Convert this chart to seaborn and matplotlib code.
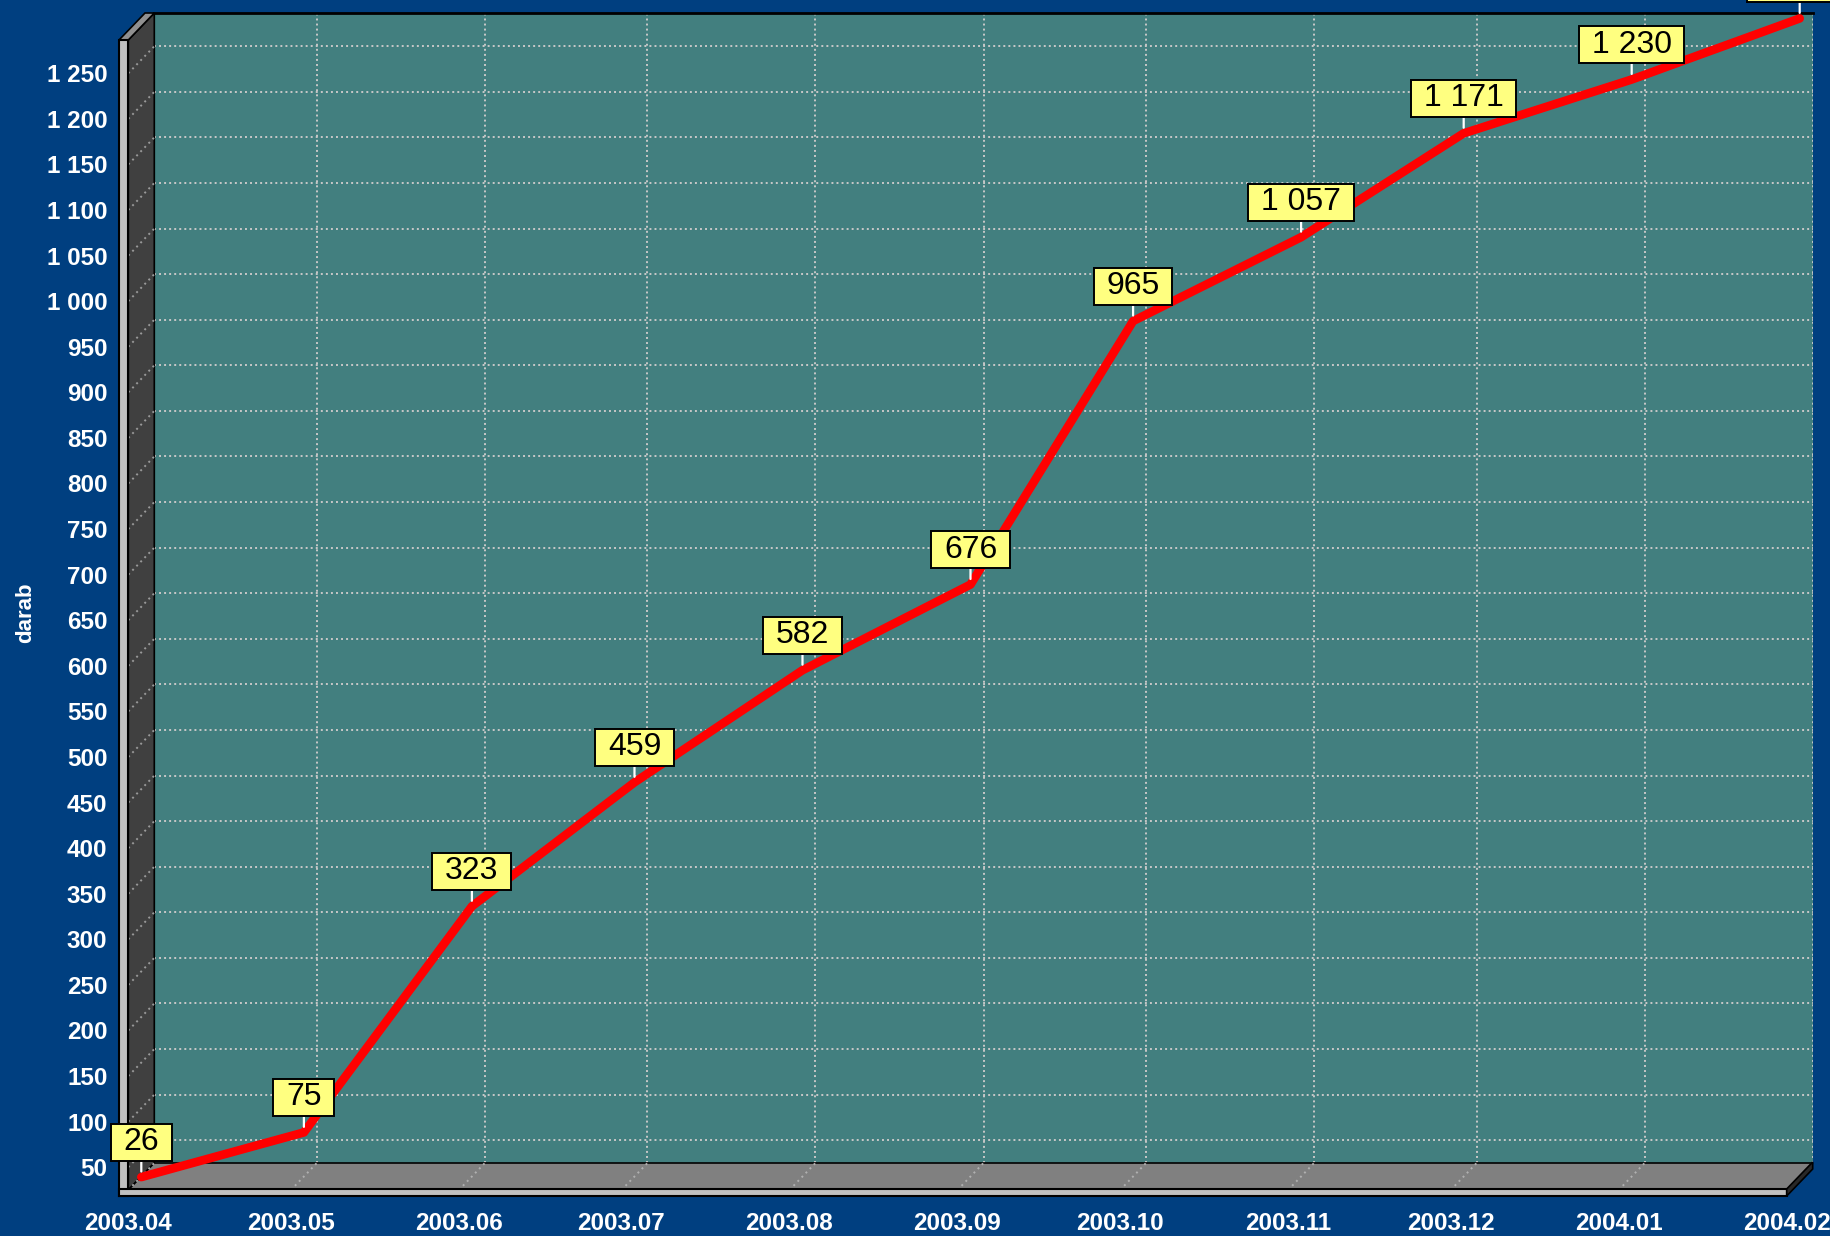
import numpy as np
import pandas as pd
import matplotlib
matplotlib.use("Agg")
import matplotlib.pyplot as plt
import matplotlib.dates as mdates
import matplotlib.ticker as mticker
from matplotlib.patches import Polygon
from matplotlib.path import Path
from matplotlib.lines import Line2D
from matplotlib.transforms import IdentityTransform
import seaborn as sns

# ---------------- data ----------------
months = ["2003-04-01", "2003-05-01", "2003-06-01", "2003-07-01", "2003-08-01",
          "2003-09-01", "2003-10-01", "2003-11-01", "2003-12-01", "2004-01-01",
          "2004-02-01"]
values = [26, 75, 323, 459, 582, 676, 965, 1057, 1171, 1230, 1297]
y_label = "darab"
x_range = ["2003-04-01", "2004-02-01"]
y_range = [25.0, 1286.5]

# ---------------- style ----------------
sns.set_style("white")
plt.rcParams["font.family"] = ["Liberation Sans", "DejaVu Sans"]
plt.rcParams["font.weight"] = "bold"

BG = "#003F80"
TEAL = "#427F7F"
W, H = 1831, 1236
fig = plt.figure(figsize=(W / 100, H / 100), dpi=100, facecolor=BG)

def rect(l, t, r, b):
    return [l / W, 1 - b / H, (r - l) / W, (b - t) / H]

FL, FT, FR, FB = 128.3, 40.0, 1786.7, 1190.0   # front plane (image px)
DX, DY = 26, 27                                # depth offset
MX, MY = 13, 12                                # mid-depth offset (series plane)

ax_back = fig.add_axes(rect(FL + DX, FT - DY, FR + DX, FB - DY), zorder=0)
ax_front = fig.add_axes(rect(FL, FT, FR, FB), zorder=4)
ax_mid = fig.add_axes(rect(FL + MX, FT - MY, FR + MX, FB - MY), zorder=5)

dates = pd.to_datetime(months)
xnum = mdates.date2num(dates)
x0, x1 = mdates.date2num(pd.to_datetime(x_range))

for a in (ax_back, ax_front, ax_mid):
    a.set_xlim(x0, x1)
    a.set_ylim(*y_range)

# back plane
ax_back.set_facecolor(TEAL)
ax_back.xaxis.set_major_locator(mdates.MonthLocator())
ax_back.yaxis.set_major_locator(mticker.MultipleLocator(50))
ax_back.grid(True, color="#C8C8C8", linestyle=(0, (1, 1.6)), linewidth=1.4)
ax_back.tick_params(left=False, bottom=False, labelleft=False, labelbottom=False)
for s in ("left", "right", "bottom"):
    ax_back.spines[s].set_visible(False)
ax_back.spines["top"].set_color("black")
ax_back.spines["top"].set_linewidth(2)

# front plane: ticks & labels
ax_front.patch.set_visible(False)
for s in ("top", "right"):
    ax_front.spines[s].set_visible(False)
ax_front.spines["left"].set_position(("outward", 8))
ax_front.spines["bottom"].set_position(("outward", 5))
ax_front.spines["left"].set_color("none")
ax_front.spines["bottom"].set_color("none")
ax_front.xaxis.set_major_locator(mdates.MonthLocator())
ax_front.xaxis.set_major_formatter(mdates.DateFormatter("%Y.%m"))
ax_front.xaxis.set_minor_locator(mdates.DayLocator(bymonthday=[8, 16, 23]))
ax_front.yaxis.set_major_locator(mticker.MultipleLocator(50))
ax_front.yaxis.set_minor_locator(mticker.MultipleLocator(12.5))
ax_front.yaxis.set_major_formatter(
    mticker.FuncFormatter(lambda v, p: f"{int(round(v)):,}".replace(",", " ")))
ax_front.tick_params(axis="both", which="major", colors="#E8E8E8", labelcolor="white",
                     labelsize=17.5, width=1.5, direction="out")
ax_front.tick_params(axis="y", which="major", length=4.5, pad=2.5)
ax_front.tick_params(axis="x", which="major", length=6, pad=5)
ax_front.tick_params(axis="both", which="minor", colors="#9A9A9A", width=1.5,
                     length=2.8, direction="out")
ax_front.grid(False)

# ---------------- pseudo-3D walls ----------------
def P(x, y):
    return (x, H - y)

def poly(pts, fc, ec="black", lw=1.0, z=1):
    p = Polygon([P(*q) for q in pts], closed=True, fc=fc, ec=ec, lw=lw,
                transform=IdentityTransform(), zorder=z)
    fig.add_artist(p)

# left wall and floor
poly([(FL, FT), (FL + DX, FT - DY), (FL + DX, FB - DY), (FL, FB)], "#404040", lw=1.2, z=1)
poly([(FL, FB), (FL + DX, FB - DY), (FR + DX, FB - DY), (FR, FB)], "#808080", lw=1.2, z=1)

# diagonals on wall / floor, following the axis scales
for v in np.arange(50, 1251, 50):
    p0 = ax_front.transData.transform((x0, v))
    p1 = ax_back.transData.transform((x0, v))
    fig.add_artist(Line2D([p0[0], p1[0]], [p0[1], p1[1]], color="#9A9A9A", lw=1.4,
                          linestyle=(0, (1, 2)), transform=IdentityTransform(), zorder=1.5))
for d in mdates.date2num(pd.date_range(x_range[0], x_range[1], freq="MS")):
    p0 = ax_front.transData.transform((d, y_range[0]))
    p1 = ax_back.transData.transform((d, y_range[0]))
    fig.add_artist(Line2D([p0[0], p1[0]], [p0[1], p1[1]], color="#B0B0B0", lw=1.4,
                          linestyle=(0, (1, 2)), transform=IdentityTransform(), zorder=1.5))

# front frame strips and bevels
poly([(119, FT), (119 + DX, FT - DY), (FL + DX, FT - DY), (FL, FT)], "#909090", lw=1.2, z=2)
poly([(119, FT), (FL, FT), (FL, 1196), (119, 1196)], "#C0C0C0", lw=1.5, z=2)
poly([(119, FB - 1), (FR, FB - 1), (FR, 1196), (119, 1196)], "#C0C0C0", lw=1.5, z=2)
poly([(FR, FB - 1), (FR + DX, FB - DY - 1), (FR + DX, FB - DY + 6), (FR, 1196)],
     "#282828", lw=1.2, z=2)

# ---------------- series ----------------
ax_mid.patch.set_visible(False)
ax_mid.axis("off")
df = pd.DataFrame({"month": xnum, "value": values})
sns.lineplot(data=df, x="month", y="value", ax=ax_mid, color="#FF0000",
             linewidth=6.2, legend=False)
for ln in ax_mid.lines:
    ln.set_clip_on(False)
    ln.set_solid_capstyle("round")
ax_mid.set_xlim(x0, x1)
ax_mid.set_ylim(*y_range)


def label_box(x0_, y0_, width, height, mutation_size):
    padx = 0.4 * mutation_size
    pady = 0.11 * mutation_size
    xa, xb = x0_ - padx, x0_ + width + padx
    ya, yb = y0_ - pady, y0_ + height + pady
    return Path([(xa, ya), (xb, ya), (xb, yb), (xa, yb), (xa, ya)], closed=True)


for xv, v in zip(xnum, values):
    txt = f"{v:,}".replace(",", " ")
    ax_mid.annotate(txt, xy=(xv, v), xytext=(0, 20), textcoords="offset pixels",
                    ha="center", va="bottom", fontsize=23, fontweight="normal",
                    color="black", annotation_clip=False, zorder=6,
                    bbox=dict(boxstyle=label_box, fc="#FFFF80", ec="black", lw=1.4),
                    arrowprops=dict(arrowstyle="-", color="white", lw=1.6,
                                    shrinkA=0, shrinkB=4))

fig.text(25.7 / W, 1 - 613 / H, y_label, rotation=90, color="white",
         fontweight="bold", fontsize=16, ha="center", va="center")

fig.savefig("out.png", dpi=100, facecolor=BG)
